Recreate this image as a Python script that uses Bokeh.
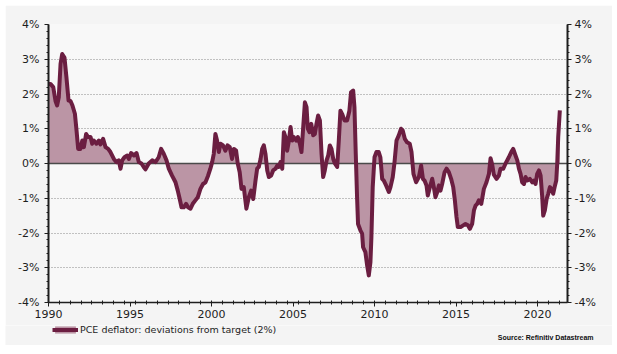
from bokeh.plotting import figure
from bokeh.layouts import column
from bokeh.models import Range1d, LinearAxis, FixedTicker, Legend, LegendItem, Label
from bokeh.embed import file_html
from bokeh.resources import INLINE

# ---- data ----
dates = [
    1990.00, 1990.12, 1990.29, 1990.43, 1990.53, 1990.63, 1990.74, 1990.84, 1990.98,
    1991.10, 1991.23, 1991.35, 1991.47, 1991.62, 1991.72, 1991.82, 1991.96,
    1992.07, 1992.17, 1992.31, 1992.43, 1992.58, 1992.68, 1992.78, 1992.94,
    1993.09, 1993.19, 1993.35, 1993.50, 1993.66, 1993.80,
    1994.01, 1994.17, 1994.31, 1994.42, 1994.52, 1994.66, 1994.83, 1994.93,
    1995.07, 1995.24, 1995.40, 1995.54, 1995.70, 1995.84, 1995.95,
    1996.15, 1996.36, 1996.56, 1996.76, 1996.91,
    1997.07, 1997.24, 1997.38, 1997.58, 1997.79, 1997.93,
    1998.05, 1998.16, 1998.30, 1998.44, 1998.56, 1998.71, 1998.85,
    1999.01, 1999.16, 1999.32, 1999.48, 1999.63, 1999.79, 1999.93,
    2000.04, 2000.14, 2000.24, 2000.34, 2000.45, 2000.55, 2000.71, 2000.85, 2000.98,
    2001.12, 2001.26, 2001.37, 2001.51, 2001.61, 2001.73, 2001.84, 2001.98,
    2002.14, 2002.29, 2002.43, 2002.56, 2002.70, 2002.80, 2002.90,
    2003.01, 2003.11, 2003.21, 2003.31, 2003.42, 2003.52, 2003.66, 2003.78, 2003.93,
    2004.03, 2004.13, 2004.23, 2004.34, 2004.44, 2004.54, 2004.64, 2004.75, 2004.85, 2004.95,
    2005.05, 2005.20, 2005.30, 2005.42, 2005.52, 2005.62, 2005.73, 2005.83, 2005.91,
    2006.01, 2006.12, 2006.24, 2006.34, 2006.44, 2006.54, 2006.65, 2006.75, 2006.85, 2006.95,
    2007.06, 2007.16, 2007.26, 2007.36, 2007.47, 2007.57, 2007.71, 2007.81, 2007.91,
    2008.01, 2008.16, 2008.32, 2008.46, 2008.56, 2008.69, 2008.77, 2008.85, 2008.93, 2008.99,
    2009.14, 2009.24, 2009.30, 2009.44, 2009.55, 2009.65, 2009.75, 2009.81, 2009.89,
    2010.00, 2010.12, 2010.26, 2010.36, 2010.47, 2010.57, 2010.71, 2010.88, 2010.98,
    2011.12, 2011.22, 2011.35, 2011.49, 2011.63, 2011.73, 2011.86,
    2012.00, 2012.16, 2012.27, 2012.39, 2012.55, 2012.72, 2012.86, 2012.97,
    2013.07, 2013.19, 2013.27, 2013.40, 2013.54, 2013.64, 2013.74, 2013.85, 2013.95,
    2014.05, 2014.15, 2014.30, 2014.42, 2014.56, 2014.70, 2014.83, 2014.93,
    2015.03, 2015.11, 2015.28, 2015.44, 2015.58, 2015.73, 2015.85, 2015.99,
    2016.10, 2016.20, 2016.30, 2016.40, 2016.55, 2016.71, 2016.87,
    2017.02, 2017.12, 2017.22, 2017.32, 2017.49, 2017.63, 2017.73, 2017.90,
    2018.04, 2018.14, 2018.24, 2018.39, 2018.51, 2018.65, 2018.76, 2018.86, 2018.96,
    2019.06, 2019.17, 2019.27, 2019.37, 2019.53, 2019.68, 2019.78, 2019.88, 2019.98,
    2020.09, 2020.19, 2020.29, 2020.35, 2020.45, 2020.56, 2020.66, 2020.76, 2020.86, 2020.96,
    2021.05, 2021.15, 2021.21, 2021.27, 2021.37,
]
deviation = [
    2.29, 2.29, 2.20, 1.80, 1.67, 1.90, 2.87, 3.15, 3.05,
    2.48, 1.81, 1.80, 1.67, 1.43, 0.95, 0.42, 0.42,
    0.66, 0.47, 0.85, 0.76, 0.76, 0.57, 0.66, 0.57,
    0.66, 0.55, 0.71, 0.47, 0.42, 0.33,
    0.13, 0.04, 0.09, -0.15, 0.09, 0.18, 0.23, 0.13,
    0.30, 0.23, 0.30, 0.04, 0.00, -0.10, -0.17,
    0.00, 0.09, 0.04, 0.18, 0.42,
    0.28, 0.09, -0.15, -0.35, -0.54, -0.78,
    -1.02, -1.26, -1.26, -1.16, -1.26, -1.30, -1.16,
    -1.06, -0.97, -0.73, -0.59, -0.54, -0.35, -0.15,
    0.04, 0.28, 0.85, 0.66, 0.33, 0.57, 0.52, 0.37, 0.52,
    0.47, 0.13, 0.42, 0.37, 0.00, -0.25, -0.73, -0.68,
    -1.30, -0.97, -0.78, -1.02, -0.49, -0.15, -0.10,
    0.13, 0.42, 0.52, 0.28, -0.20, -0.39, -0.35, -0.20, -0.15,
    -0.06, -0.10, 0.04, -0.15, 0.90, 0.76, 0.37, 0.66, 1.05, 0.66,
    0.76, 0.66, 0.76, 0.57, 0.33, 1.00, 1.76, 1.62, 1.00,
    0.90, 1.14, 0.81, 0.85, 1.14, 1.38, 1.24, 0.28, -0.39, -0.20,
    0.09, 0.23, 0.52, 0.42, 0.13, 0.00, -0.10, 0.66, 1.52,
    1.43, 1.24, 1.24, 1.52, 2.05, 2.10, 1.62, 0.28, -0.97, -1.74,
    -1.93, -2.02, -2.41, -2.55, -2.94, -3.22, -2.84, -2.12, -0.68,
    0.18, 0.33, 0.33, 0.18, -0.44, -0.49, -0.63, -0.82, -0.68,
    -0.39, 0.00, 0.66, 0.81, 1.00, 0.95, 0.71,
    0.61, 0.57, 0.33, -0.30, -0.54, -0.39, -0.06, -0.44,
    -0.49, -0.63, -0.92, -0.68, -0.44, -0.68, -0.97, -0.82, -0.63,
    -0.78, -0.59, -0.25, -0.15, -0.25, -0.44, -0.68, -1.06,
    -1.54, -1.83, -1.83, -1.78, -1.74, -1.78, -1.88, -1.74,
    -1.35, -1.21, -1.16, -1.06, -1.16, -0.73, -0.54,
    -0.30, 0.15, -0.03, -0.32, -0.44, -0.35, -0.15, -0.15,
    0.00, 0.09, 0.18, 0.33, 0.42, 0.23, 0.09, -0.15, -0.30,
    -0.54, -0.59, -0.39, -0.49, -0.44, -0.54, -0.49, -0.59, -0.30,
    -0.20, -0.35, -0.97, -1.50, -1.35, -1.02, -0.87, -0.68, -0.73, -0.87,
    -0.68, -0.49, 0.00, 0.76, 1.53,
]
assert len(dates) == len(deviation)

x_ticks = [1990, 1995, 2000, 2005, 2010, 2015, 2020]
x_tick_labels = ["1990", "1995", "2000", "2005", "2010", "2015", "2020"]
y_ticks = [-4, -3, -2, -1, 0, 1, 2, 3, 4]
y_tick_labels = ["-4%", "-3%", "-2%", "-1%", "0%", "1%", "2%", "3%", "4%"]
series_label = "PCE deflator: deviations from target (2%)"
source_text = "Source: Refinitiv Datastream"

LINE = "#6b1e41"
FILL = "#bb95a5"
INK = "#1e1e1e"
FONT = "DejaVu Sans"
PANEL = "#f4f4f4"

# ---------------- main chart ----------------
p = figure(width=607, height=320, output_backend="svg", toolbar_location=None,
           x_range=Range1d(1990, 2021.84), y_range=Range1d(-4, 4),
           min_border_left=43, min_border_right=45, min_border_top=19, min_border_bottom=23,
           border_fill_color=PANEL, background_fill_color="#f8f8f8",
           outline_line_color=None)
p.margin = (5, 5, 0, 5)
p.frame_align = False

area_r = p.varea(x=dates, y1=0, y2=deviation, fill_color=FILL)
p.hspan(y=[0], line_color="#4a4a4a", line_width=1.5)
line_r = p.line(dates, deviation, line_width=4, line_color=LINE, line_join="round")

y_minor = [round(-4 + 0.2 * i, 2) for i in range(41)]
x_minor = [1990 + k * (2.0 / 3.0) for k in range(48)]

p.xgrid.visible = False
p.ygrid.ticker = FixedTicker(ticks=y_ticks)
p.ygrid.grid_line_color = "#8a8a8a"
p.ygrid.grid_line_dash = "1 2"
p.ygrid.grid_line_width = 1

xa = p.xaxis[0]
xa.ticker = FixedTicker(ticks=x_ticks, minor_ticks=x_minor)
xa.major_label_overrides = {t: l for t, l in zip(x_ticks, x_tick_labels)}
xa.axis_line_width = 1.5
xa.axis_line_color = INK
xa.major_tick_line_color = INK
xa.minor_tick_line_color = INK
xa.major_tick_in = 0
xa.major_tick_out = 4
xa.minor_tick_in = 2
xa.minor_tick_out = 2
xa.major_label_standoff = 3
xa.major_label_text_font = FONT
xa.major_label_text_font_size = "11px"
xa.major_label_text_color = INK

ra = LinearAxis()
p.add_layout(ra, "right")
for ax, standoff in ((p.yaxis[0], 5), (ra, 3)):
    ax.ticker = FixedTicker(ticks=y_ticks, minor_ticks=y_minor)
    ax.major_label_overrides = {t: l for t, l in zip(y_ticks, y_tick_labels)}
    ax.axis_line_width = 2
    ax.axis_line_color = INK
    ax.major_tick_line_color = INK
    ax.minor_tick_line_color = INK
    ax.major_tick_in = 0
    ax.major_tick_out = 4
    ax.minor_tick_in = 0
    ax.minor_tick_out = 2
    ax.major_label_standoff = standoff
    ax.major_label_text_font = FONT
    ax.major_label_text_font_size = "11px"
    ax.major_label_text_color = INK

# ---------------- legend / source strip ----------------
q = figure(width=607, height=20, output_backend="svg", toolbar_location=None,
           x_range=Range1d(0, 607), y_range=Range1d(0, 20),
           x_axis_location=None, y_axis_location=None,
           min_border_left=0, min_border_right=0, min_border_top=0, min_border_bottom=0,
           border_fill_color=PANEL, background_fill_color=PANEL,
           outline_line_color=None)
q.margin = (0, 5, 0, 5)
q.frame_align = False
q.grid.visible = False
q.extra_y_ranges = {"hidden": Range1d(100, 101)}
leg_area = q.varea(x=dates, y1=0, y2=deviation, fill_color=FILL, y_range_name="hidden")
leg_line = q.line(dates, deviation, line_width=4, line_color=LINE, y_range_name="hidden")

legend = Legend(items=[LegendItem(label=series_label, renderers=[leg_area, leg_line])],
                location=(47, 10), orientation="horizontal",
                padding=0, margin=0, spacing=0,
                glyph_width=26, glyph_height=9, label_standoff=2,
                label_text_font=FONT, label_text_font_size="9.5px",
                label_text_color=INK,
                background_fill_alpha=0, border_line_color=None)
q.add_layout(legend)

src = Label(x=588, y=8, text=source_text, text_align="right",
            text_baseline="middle", text_font="Liberation Sans",
            text_font_style="bold", text_font_size="7px", text_color="#111111")
q.add_layout(src)

page = column(p, q, spacing=0)
open("out.html", "w").write(file_html(page, INLINE))
